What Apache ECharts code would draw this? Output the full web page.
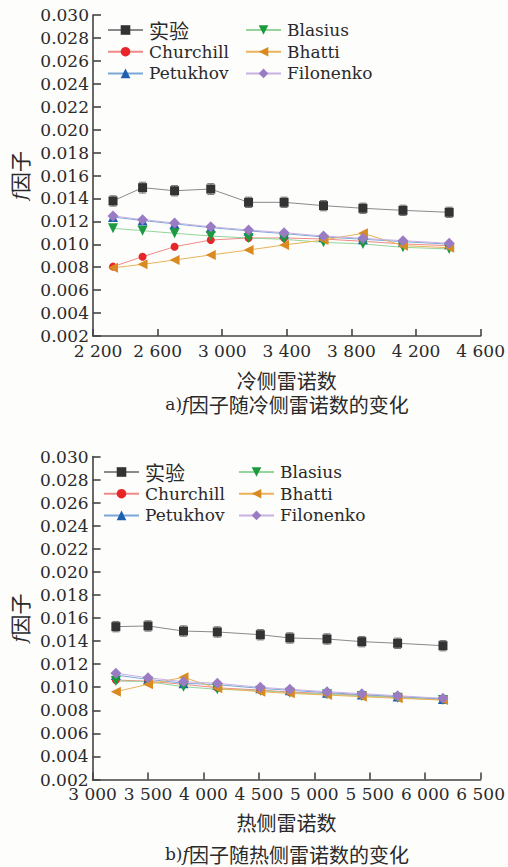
<!DOCTYPE html>
<html>
<head>
<meta charset="utf-8">
<script src="https://cdn.jsdelivr.net/npm/echarts@6/dist/echarts.min.js"></script>
<style>
html,body{margin:0;padding:0;background:#fdfdfc;}
#c{width:508px;height:867px;}
</style>
</head>
<body>
<div id="c"></div>
<script>
// ---- Data: (a) cold side ----
const xTicksCold = [2200, 2600, 3000, 3400, 3800, 4200, 4600];
const reCold = [2324, 2507, 2705, 2929, 3163, 3383, 3627, 3871, 4119, 4405];
const expCold = [0.01378, 0.01494, 0.01467, 0.01482, 0.01366, 0.01366, 0.01337, 0.01314, 0.01296, 0.01279];
const errCold = [0.00045, 0.00047, 0.00045, 0.00047, 0.00045, 0.00045, 0.00045, 0.00045, 0.00045, 0.00045];
const churchillCold = [0.00805, 0.00892, 0.00979, 0.01037, 0.01055, 0.01055, 0.01046, 0.01026, 0.01003, 0.00988];
const petukhovCold = [0.01238, 0.01207, 0.01178, 0.01145, 0.01117, 0.01093, 0.01064, 0.01044, 0.01023, 0.01001];
const blasiusCold = [0.01139, 0.01119, 0.01096, 0.01072, 0.01055, 0.01043, 0.01017, 0.01003, 0.00974, 0.00959];
const bhattiCold = [0.00795, 0.00825, 0.00863, 0.00907, 0.0095, 0.00994, 0.01037, 0.01096, 0.00988, 0.0097];
const filonenkoCold = [0.01247, 0.01215, 0.01186, 0.01153, 0.01125, 0.01101, 0.01072, 0.01052, 0.01031, 0.01009];

// ---- Data: (b) hot side ----
const xTicksHot = [3000, 3500, 4000, 4500, 5000, 5500, 6000, 6500];
const reHot = [3210, 3500, 3820, 4125, 4513, 4779, 5114, 5428, 5751, 6160];
const expHot = [0.01525, 0.01531, 0.01487, 0.01479, 0.01455, 0.01427, 0.01418, 0.01395, 0.01381, 0.0136];
const errHot = [0.00045, 0.00045, 0.00045, 0.00045, 0.00045, 0.00045, 0.00045, 0.00045, 0.00045, 0.00045];
const churchillHot = [0.01062, 0.01052, 0.01025, 0.00995, 0.00975, 0.00958, 0.00945, 0.0093, 0.00915, 0.00895];
const petukhovHot = [0.01105, 0.01068, 0.01035, 0.01022, 0.0099, 0.00973, 0.00953, 0.00936, 0.00919, 0.00898];
const blasiusHot = [0.01054, 0.01048, 0.01004, 0.00982, 0.0097, 0.00952, 0.00939, 0.00924, 0.00909, 0.00889];
const bhattiHot = [0.00961, 0.01025, 0.01086, 0.00991, 0.00961, 0.00947, 0.00932, 0.00918, 0.00904, 0.00889];
const filonenkoHot = [0.01121, 0.01082, 0.01048, 0.01034, 0.00999, 0.00982, 0.00961, 0.00944, 0.00926, 0.00904];

const yTicks = [0.002, 0.030, 0.002]; // min, max, interval

const seriesNames = ['实验', 'Churchill', 'Petukhov', 'Blasius', 'Bhatti', 'Filonenko'];

// ---- Styles ----
const SERIF = 'DejaVu Serif';
const CJK = 'Noto Sans CJK SC';
const TXT = '#2a2a2a';
const AX = '#444';
const styles = {
  '实验': {symbol: 'rect', size: 9, color: '#333', line: '#8a8a8a'},
  'Churchill': {symbol: 'circle', size: 8, color: '#e8262a', line: '#f08a86'},
  'Petukhov': {symbol: 'triangle', size: 10, color: '#1e5fb0', line: '#7aa7d8'},
  'Blasius': {symbol: 'path://M0,0L10,0L5,9Z', size: 10, color: '#1c9a40', line: '#95d49a'},
  'Bhatti': {symbol: 'path://M0,5L9,0L9,10Z', size: 10, color: '#d98a20', line: '#eab25a'},
  'Filonenko': {symbol: 'diamond', size: 11, color: '#9a7cc4', line: '#c8b2e2'}
};

function fmtNum(v) { return String(v).replace(/\B(?=(\d{3})+(?!\d))/g, ' '); }
function fmtXFactory(minV) {
  return function (v) { return v === minV ? '{first|' + fmtNum(v) + '}' : fmtNum(v); };
}

function lineSeries(name, xs, ys, idx) {
  const s = styles[name];
  return {
    type: 'line', name: name, xAxisIndex: idx, yAxisIndex: idx,
    data: xs.map((x, i) => [x, ys[i]]),
    symbol: s.symbol, symbolSize: s.size,
    itemStyle: {color: s.color},
    lineStyle: {color: s.line, width: 1},
    emphasis: {disabled: true},
    animation: false, z: 3
  };
}

function errSeries(xs, ys, es, idx) {
  return {
    type: 'custom', name: 'err', xAxisIndex: idx, yAxisIndex: idx,
    data: xs.map((x, i) => [x, ys[i] - es[i], ys[i] + es[i]]),
    encode: {x: 0, y: [1, 2]},
    renderItem: function (params, api) {
      const x = api.value(0);
      const p1 = api.coord([x, api.value(2)]);
      const p2 = api.coord([x, api.value(1)]);
      const w = 3.5;
      const st = {stroke: '#777', lineWidth: 1};
      return {type: 'group', children: [
        {type: 'line', shape: {x1: p1[0], y1: p1[1], x2: p2[0], y2: p2[1]}, style: st},
        {type: 'line', shape: {x1: p1[0] - w, y1: p1[1], x2: p1[0] + w, y2: p1[1]}, style: st},
        {type: 'line', shape: {x1: p2[0] - w, y1: p2[1], x2: p2[0] + w, y2: p2[1]}, style: st}
      ]};
    },
    z: 2, animation: false, silent: true
  };
}

function xAxis(idx, ticks, name, gap, shift) {
  return {
    type: 'value', gridIndex: idx,
    min: ticks[0], max: ticks[ticks.length - 1], interval: ticks[1] - ticks[0],
    name: name, nameLocation: 'middle', nameGap: gap,
    nameTextStyle: {fontFamily: CJK, fontSize: 20, lineHeight: 20, color: TXT},
    axisLine: {show: true, lineStyle: {color: AX, width: 1.6}},
    axisTick: {show: true, inside: true, length: 7, lineStyle: {color: AX, width: 1.6}},
    axisLabel: {formatter: fmtXFactory(ticks[0]), fontFamily: SERIF, fontSize: 17, color: TXT, margin: 6,
      rich: {first: {fontFamily: SERIF, fontSize: 17, color: TXT, padding: [0, 0, 0, shift]}}},
    splitLine: {show: false}
  };
}
function yAxis(idx) {
  return {
    type: 'value', gridIndex: idx,
    min: yTicks[0], max: yTicks[1], interval: yTicks[2],
    name: '{i|f}因子', nameLocation: 'middle', nameGap: 62,
    nameTextStyle: {fontFamily: CJK, fontSize: 21, color: TXT,
      rich: {i: {fontFamily: SERIF, fontStyle: 'italic', fontSize: 19, color: TXT}}},
    axisLine: {show: true, lineStyle: {color: AX, width: 1.6}},
    axisTick: {show: true, inside: true, length: 8, lineStyle: {color: AX, width: 1.6}},
    axisLabel: {formatter: v => v.toFixed(3), fontFamily: SERIF, fontSize: 17, color: TXT, margin: 4},
    splitLine: {show: false}
  };
}

function legend(names, left, top) {
  return {
    data: names, orient: 'vertical', left: left, top: top,
    itemWidth: 35, itemHeight: 12, itemGap: 1.7, padding: 0,
    formatter: n => /[\u4e00-\u9fff]/.test(n) ? '{c|' + n + '}' : n,
    textStyle: {fontFamily: SERIF, fontSize: 17, lineHeight: 20, color: TXT, padding: [0, 0, 0, 1],
      rich: {c: {fontFamily: CJK, fontSize: 20, lineHeight: 20, color: TXT}}},
    selectedMode: false
  };
}

function caption(prefix, body, x, top) {
  return {
    text: '{s|' + prefix + '}{i|f}' + body, left: x, top: top, textAlign: 'center', padding: 0,
    textStyle: {fontFamily: CJK, fontSize: 20, lineHeight: 20, fontWeight: 'normal', color: TXT,
      rich: {
        s: {fontFamily: SERIF, fontSize: 17, lineHeight: 20, color: TXT},
        i: {fontFamily: SERIF, fontStyle: 'italic', fontSize: 18, lineHeight: 20, color: TXT}
      }}
  };
}

const option = {
  backgroundColor: '#fdfdfc',
  animation: false,
  textStyle: {fontFamily: SERIF},
  title: [
    caption('a)', '因子随冷侧雷诺数的变化', 287, 394),
    caption('b)', '因子随热侧雷诺数的变化', 287, 844)
  ],
  legend: [
    legend(seriesNames.slice(0, 3), 107, 20),
    legend(seriesNames.slice(3), 245, 20),
    legend(seriesNames.slice(0, 3), 103, 462),
    legend(seriesNames.slice(3), 238, 462)
  ],
  grid: [
    {left: 93, right: 22, top: 15, height: 321},
    {left: 92, right: 22, top: 456.5, height: 323}
  ],
  xAxis: [xAxis(0, xTicksCold, '冷侧雷诺数', 34, 10), xAxis(1, xTicksHot, '热侧雷诺数', 33, 0)],
  yAxis: [yAxis(0), yAxis(1)],
  series: [
    errSeries(reCold, expCold, errCold, 0),
    lineSeries('实验', reCold, expCold, 0),
    lineSeries('Churchill', reCold, churchillCold, 0),
    lineSeries('Petukhov', reCold, petukhovCold, 0),
    lineSeries('Blasius', reCold, blasiusCold, 0),
    lineSeries('Bhatti', reCold, bhattiCold, 0),
    lineSeries('Filonenko', reCold, filonenkoCold, 0),
    errSeries(reHot, expHot, errHot, 1),
    lineSeries('实验', reHot, expHot, 1),
    lineSeries('Churchill', reHot, churchillHot, 1),
    lineSeries('Petukhov', reHot, petukhovHot, 1),
    lineSeries('Blasius', reHot, blasiusHot, 1),
    lineSeries('Bhatti', reHot, bhattiHot, 1),
    lineSeries('Filonenko', reHot, filonenkoHot, 1)
  ]
};

const chart = echarts.init(document.getElementById('c'), null, {renderer: 'svg'});
chart.setOption(option);
</script>
</body>
</html>
